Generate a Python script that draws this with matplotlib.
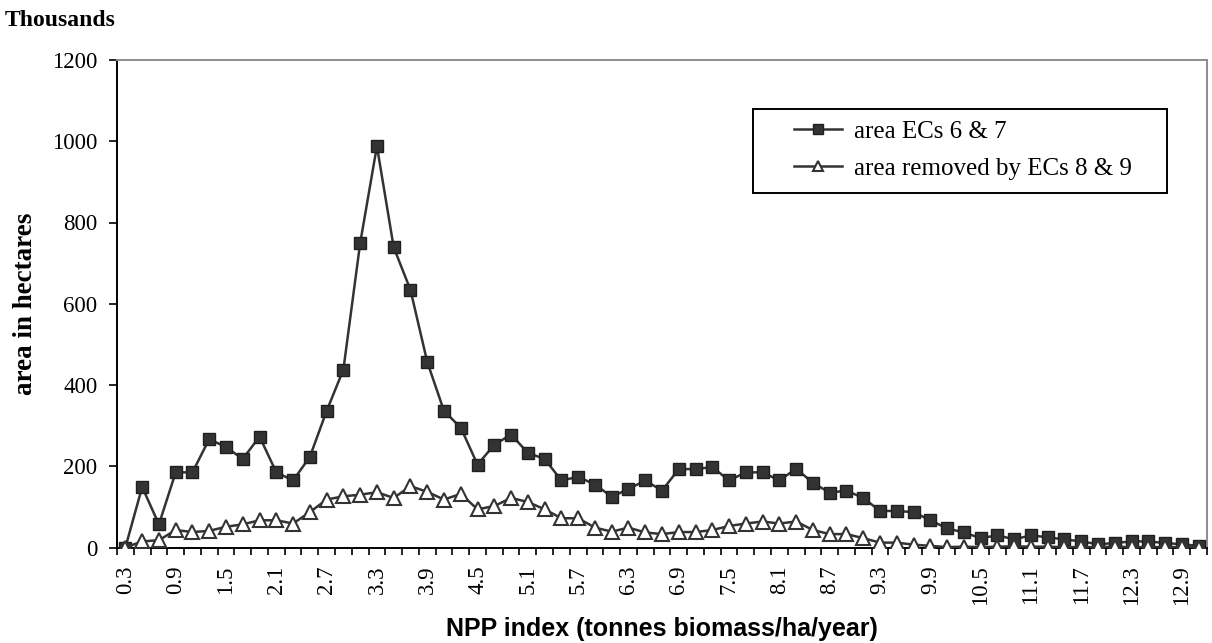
import matplotlib
matplotlib.use("Agg")
import matplotlib.pyplot as plt
from matplotlib.patches import Rectangle
import numpy as np

# NPP index categories (tonnes biomass/ha/year), step 0.2
npp = [round(0.3 + 0.2 * i, 1) for i in range(65)]

# values in thousands of hectares
area_ecs_6_7 = [0, 149, 57, 185, 185, 267, 247, 218, 273, 185,
                165, 223, 336, 438, 749, 988, 739, 634, 457, 336,
                295, 204, 253, 278, 233, 218, 165, 174, 155, 125,
                144, 165, 140, 193, 193, 198, 165, 185, 185, 165,
                194, 159, 135, 140, 122, 90, 90, 87, 67, 47,
                37, 23, 30, 20, 30, 25, 20, 15, 8, 11,
                15, 15, 11, 8, 4]
area_removed_8_9 = [0, 15, 18, 43, 38, 41, 51, 57, 67, 67,
                    59, 87, 118, 126, 130, 136, 122, 151, 137, 118,
                    132, 94, 102, 122, 112, 94, 72, 72, 49, 39,
                    49, 37, 33, 38, 38, 43, 53, 59, 64, 59,
                    64, 43, 33, 33, 23, 12, 12, 7, 4, 1,
                    2, 1, 2, 3, 2, 2, 1, 1, 1, 2,
                    1, 1, 1, 1, 0]

y_ticks = [0, 200, 400, 600, 800, 1000, 1200]

serif = "Liberation Serif"
dark = "#333333"

fig = plt.figure(figsize=(12.12, 6.43), dpi=100)
ax = fig.add_axes([117 / 1212, 1 - 547.5 / 643, 1090 / 1212, 487.5 / 643])

x = np.arange(len(npp))
ax.plot(x, area_ecs_6_7, color=dark, lw=1.8, marker="s", ms=8.5,
        mfc=dark, mec="#1f1f1f", mew=1.0, label="area ECs 6 & 7", zorder=3)
ax.plot(x, area_removed_8_9, color=dark, lw=1.8, marker="^", ms=9.5,
        mfc="white", mec=dark, mew=1.5, label="area removed by ECs 8 & 9", zorder=3)

ax.set_xlim(-0.5, len(npp) - 0.5)
ax.set_ylim(0, 1200)

# category labels every 3rd, tick marks at every category boundary
ax.set_xticks(x[::3])
ax.set_xticklabels([f"{v:.1f}" for v in npp[::3]], rotation=90,
                   fontfamily=serif, fontsize=16.5)
ax.set_xticks(np.arange(len(npp) + 1) - 0.5, minor=True)
ax.tick_params(axis="x", which="major", length=0, pad=13)
ax.tick_params(axis="x", which="minor", length=5, width=1.2, color="black")

ax.set_yticks(y_ticks)
ax.set_yticklabels([str(v) for v in y_ticks], fontfamily=serif, fontsize=16.5)
ax.tick_params(axis="y", length=6, width=1.2, pad=8)

for side in ("left", "bottom"):
    ax.spines[side].set_color("black")
    ax.spines[side].set_linewidth(1.4)
for side in ("top", "right"):
    ax.spines[side].set_color("#8c8c8c")
    ax.spines[side].set_linewidth(1.4)

ax.set_ylabel("area in hectares", fontfamily=serif, fontsize=19.5, fontweight="bold")
ax.yaxis.set_label_coords(-(117 - 38) / 1090, 0.5)
ax.set_xlabel("NPP index (tonnes biomass/ha/year)", fontfamily="Liberation Sans",
              fontsize=18, fontweight="bold")
ax.xaxis.set_label_coords(0.5, -(629 - 547.5) / 487.5)
ax.xaxis.label.set_va("center")

fig.text(5 / 1212, 1 - 20 / 643, "Thousands", fontfamily=serif, fontsize=17,
         fontweight="bold", va="center", ha="left")

# legend frame drawn separately to get the wide left padding
box = Rectangle(((753 - 117) / 1090, (547.5 - 193) / 487.5), (1167 - 753) / 1090,
                (193 - 109) / 487.5, transform=ax.transAxes, fill=True,
                facecolor="white", edgecolor="black", lw=1.4, zorder=4)
ax.add_patch(box)
leg = ax.legend(loc="center left", bbox_to_anchor=((794 - 117) / 1090, (547.5 - 150) / 487.5),
                frameon=False, prop={"family": serif, "size": 18},
                handlelength=1.9, handletextpad=0.48, labelspacing=0.6,
                borderpad=0, borderaxespad=0, markerscale=0.8)
leg.set_zorder(5)

fig.savefig("out.png", dpi=100)
